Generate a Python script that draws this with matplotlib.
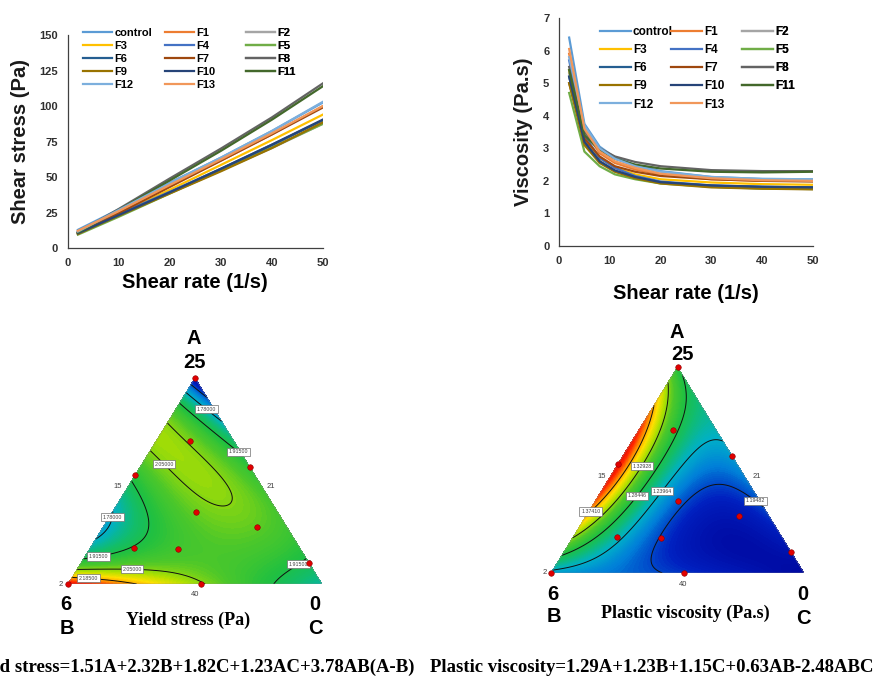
import numpy as np
import matplotlib.pyplot as plt
import matplotlib.tri as mtri
from matplotlib.colors import LinearSegmentedColormap

W, H = 877, 680

names = ['control', 'F1', 'F2', 'F3', 'F4', 'F5', 'F6', 'F7',
         'F8', 'F9', 'F10', 'F11', 'F12', 'F13']
colors = ['#5b9bd5', '#ed7d31', '#a5a5a5', '#ffc000', '#4472c4', '#70ad47',
          '#255e91', '#9e480e', '#636363', '#997300', '#264478', '#43682b',
          '#7cafdd', '#f1975a']

# shear stress (Pa) vs shear rate
stress_rate = [2, 10, 20, 30, 40, 50]
stress_values = [
    [12.8, 27.2, 46.0, 63.6, 82.4, 102.5],
    [11.8, 25.5, 44.0, 61.5, 80.0, 100.0],
    [10.6, 23.0, 39.0, 54.6, 70.4, 87.5],
    [10.8, 24.0, 41.0, 58.5, 76.0, 94.0],
    [11.4, 24.0, 39.6, 55.8, 72.8, 90.0],
    [9.4, 22.0, 38.4, 54.6, 70.8, 87.5],
    [10.4, 23.0, 39.0, 55.5, 72.4, 90.0],
    [10.0, 24.5, 43.0, 61.5, 80.0, 99.0],
    [11.0, 27.5, 49.0, 70.0, 92.0, 116.0],
    [10.0, 22.8, 38.4, 54.0, 70.4, 88.5],
    [10.4, 23.2, 39.2, 55.8, 72.8, 90.5],
    [10.8, 26.8, 47.6, 68.4, 90.4, 114.0],
    [11.6, 26.8, 45.6, 63.6, 82.4, 103.0],
    [12.1, 26.0, 44.4, 62.4, 80.8, 100.0],
]

# viscosity (Pa.s) vs shear rate
visc_rate = [2, 5, 8, 11, 15, 20, 30, 40, 50]
visc_values = [
    [6.40, 3.75, 3.05, 2.72, 2.48, 2.30, 2.12, 2.06, 2.05],
    [5.90, 3.55, 2.85, 2.55, 2.35, 2.20, 2.05, 2.00, 2.00],
    [5.30, 3.20, 2.60, 2.30, 2.10, 1.95, 1.82, 1.76, 1.75],
    [5.40, 3.30, 2.70, 2.40, 2.20, 2.05, 1.95, 1.90, 1.88],
    [5.70, 3.40, 2.70, 2.40, 2.15, 1.98, 1.86, 1.82, 1.80],
    [4.70, 2.90, 2.45, 2.20, 2.05, 1.92, 1.82, 1.77, 1.75],
    [5.20, 3.20, 2.60, 2.30, 2.10, 1.95, 1.85, 1.81, 1.80],
    [5.00, 3.30, 2.75, 2.45, 2.28, 2.15, 2.05, 2.00, 1.98],
    [5.50, 3.50, 3.00, 2.75, 2.58, 2.45, 2.33, 2.30, 2.30],
    [5.00, 3.10, 2.55, 2.28, 2.08, 1.92, 1.80, 1.76, 1.74],
    [5.20, 3.20, 2.60, 2.32, 2.12, 1.96, 1.86, 1.82, 1.80],
    [5.40, 3.40, 2.95, 2.68, 2.50, 2.38, 2.28, 2.26, 2.28],
    [5.80, 3.70, 3.00, 2.68, 2.45, 2.28, 2.12, 2.06, 2.05],
    [6.05, 3.60, 2.90, 2.60, 2.40, 2.22, 2.08, 2.02, 2.00],
]

# mixture design points (pseudo-component fractions)
design_a = [1.0, 0.693, 0.566, 0.527, 0.351, 0.278, 0.176, 0.172, 0.102, 0.0, 0.0]
design_b = [0.0, 0.173, 0.0, 0.473, 0.321, 0.116, 0.651, 0.479, 0.0, 0.476, 1.0]
design_c = [0.0, 0.134, 0.434, 0.0, 0.328, 0.606, 0.173, 0.349, 0.898, 0.524, 0.0]

# model coefficients printed under the plots
ys_coef = [1.51, 2.32, 1.82, 1.23, 3.78]    # A, B, C, AC, AB(A-B)
pv_coef = [1.29, 1.23, 1.15, 0.63, -2.48]   # A, B, C, AB, ABC

plt.rcParams['font.family'] = ['Liberation Sans', 'DejaVu Sans']
fig = plt.figure(figsize=(W / 100, H / 100), dpi=100)


def px(x, y):
    return x / W, 1 - y / H


def rheo_axes(rect, xs, values, ymax, ystep, ylabel, col_x, top_y, rowsp, fs, xpad):
    ax = fig.add_axes(rect)
    handles = []
    for vals, name, col in zip(values, names, colors):
        h, = ax.plot(xs, vals, color=col, lw=1.6, label=name)
        handles.append(h)
    ax.set_xlim(0, 50)
    ax.set_ylim(0, ymax)
    ax.set_xticks(range(0, 51, 10))
    ax.set_yticks(np.arange(0, ymax + 0.01, ystep))
    for s in ['top', 'right']:
        ax.spines[s].set_visible(False)
    for s in ['left', 'bottom']:
        ax.spines[s].set_color('#404040')
        ax.spines[s].set_linewidth(0.9)
    ax.tick_params(length=0, labelsize=8, pad=7, colors='#303030')
    for t in ax.get_xticklabels() + ax.get_yticklabels():
        t.set_fontweight('bold')
    ax.set_xlabel('Shear rate (1/s)', fontsize=14.5, fontweight='bold', labelpad=xpad)
    ax.set_ylabel(ylabel, fontsize=14.5, fontweight='bold', labelpad=7, color='#1a1a1a')
    # one legend per column so the columns sit evenly apart
    columns = [[0, 3, 6, 9, 12], [1, 4, 7, 10, 13], [2, 5, 8, 11]]
    for cx, idx in zip(col_x, columns):
        leg = ax.legend([handles[i] for i in idx], [names[i] for i in idx],
                        frameon=False, loc='upper left', bbox_to_anchor=(cx, top_y),
                        borderaxespad=0, borderpad=0, handlelength=2.6,
                        handletextpad=0.2, labelspacing=rowsp,
                        prop={'weight': 'bold', 'size': fs})
        ax.add_artist(leg)
    return ax


rheo_axes([0.0772, 0.6353, 0.2911, 0.3132], stress_rate, stress_values,
          150, 25, 'Shear stress (Pa)', [0.06, 0.38, 0.70], 1.035, 0.28, 8, 4)
rheo_axes([0.6374, 0.6382, 0.2896, 0.3353], visc_rate, visc_values,
          7, 1, 'Viscosity (Pa.s)', [0.161, 0.441, 0.72], 0.965, 0.52, 8.5, 13.5)

cmap = LinearSegmentedColormap.from_list('de', [
    (0.0, '#0008a0'), (0.12, '#0020c0'), (0.24, '#0080d8'), (0.34, '#00b0c8'),
    (0.44, '#10bc70'), (0.52, '#20c040'), (0.62, '#50c828'), (0.71, '#b0e000'),
    (0.79, '#ffe000'), (0.87, '#ff9000'), (0.95, '#ff2800'), (1.0, '#f01000')])

n = 160
ii, jj = np.meshgrid(np.arange(n + 1), np.arange(n + 1))
keep = ii + jj <= n
ga = ii[keep] / n
gb = jj[keep] / n
gc = 1 - ga - gb

ys_grid = (ys_coef[0] * ga + ys_coef[1] * gb + ys_coef[2] * gc
           + ys_coef[3] * ga * gc + ys_coef[4] * ga * gb * (ga - gb))
pv_grid = (pv_coef[0] * ga + pv_coef[1] * gb + pv_coef[2] * gc
           + pv_coef[3] * ga * gb + pv_coef[4] * ga * gb * gc)


def ternary(rect, z, title, lab):
    ax = fig.add_axes(rect)
    tri = mtri.Triangulation(gc + 0.5 * ga, ga)
    zmin, zmax = z.min(), z.max()
    ax.tricontourf(tri, z, levels=np.linspace(zmin, zmax, 120), cmap=cmap)
    lev = zmin + (zmax - zmin) * np.arange(1, 6) / 6
    cs = ax.tricontour(tri, z, levels=lev, colors='#101010', linewidths=0.7)
    for t in ax.clabel(cs, fmt='%.5f', fontsize=3.8, inline=False, colors='#404040'):
        t.set_rotation(0)
        t.set_bbox(dict(boxstyle='square,pad=0.3', fc='white', ec='#707070', lw=0.5))
    da, dc = np.array(design_a), np.array(design_c)
    ax.scatter(dc + 0.5 * da, da, s=16, color='#e00000', edgecolors='#8b0000',
               linewidths=0.4, zorder=5, clip_on=False)
    ax.plot([0, 1, 0.5, 0], [0, 0, 1, 0], color='#909090', lw=0.3)
    ax.set_xlim(0, 1)
    ax.set_ylim(0, 1)
    ax.axis('off')
    big = dict(fontsize=14.5, fontweight='bold', ha='center', va='center')
    small = dict(fontsize=5.5, color='#404040', ha='center', va='center')
    for key in ['A', '25', '6', 'B', '0', 'C']:
        fig.text(*px(*lab[key]), key, **big)
    for key in ['15', '21', '40', '2']:
        fig.text(*px(*lab[key]), key, **small)
    fig.text(*px(*lab['title']), title, fontsize=13, fontweight='bold',
             family='Liberation Serif', ha='center', va='center')


ternary([68 / W, 1 - 584 / H, 254 / W, 206 / H], ys_grid, 'Yield stress (Pa)',
        {'A': (194, 338), '25': (194, 362), '6': (66, 604), 'B': (67, 628),
         '0': (315, 604), 'C': (315, 628), '15': (118, 487), '21': (271, 487),
         '40': (195, 595), '2': (61, 584), 'title': (188, 620)})
ternary([551 / W, 1 - 573 / H, 253 / W, 206 / H], pv_grid, 'Plastic viscosity (Pa.s)',
        {'A': (677, 332), '25': (682, 354), '6': (553, 595), 'B': (554, 617),
         '0': (803, 595), 'C': (803, 618), '15': (602, 476), '21': (757, 476),
         '40': (683, 584), '2': (545, 573), 'title': (685, 613)})

# the left equation runs past the figure edge in the original, as here
eq = dict(fontsize=13.5, fontweight='bold', family='Liberation Serif', va='center')
fig.text(*px(415, 667), 'Yield stress=1.51A+2.32B+1.82C+1.23AC+3.78AB(A-B)', ha='right', **eq)
fig.text(*px(430, 667), 'Plastic viscosity=1.29A+1.23B+1.15C+0.63AB-2.48ABC', ha='left', **eq)

fig.savefig('out.png', dpi=100)
